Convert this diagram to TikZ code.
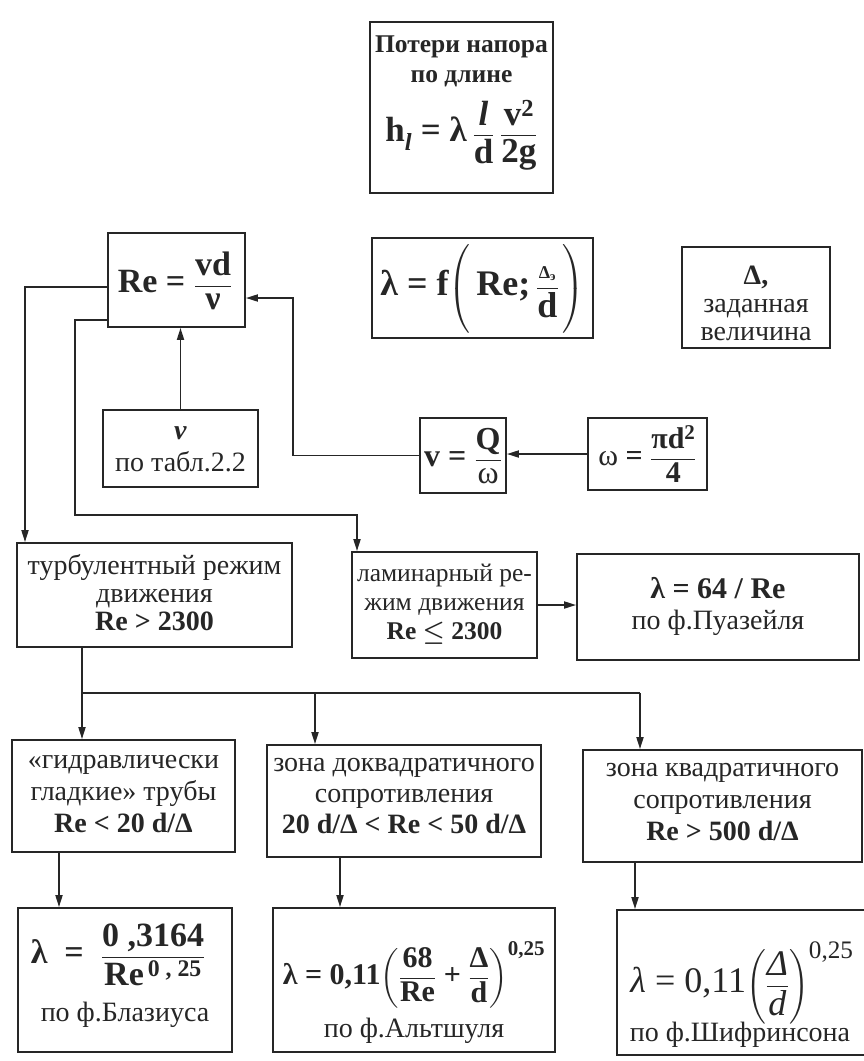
\documentclass[tikz,border=0pt]{standalone}
\usepackage{amsmath}
\usepackage{fontspec}
\setmainfont{Liberation Serif}
\usetikzlibrary{arrows.meta,calc}
\definecolor{ink}{HTML}{262626}
\newcommand\myfs[2]{\fontsize{#1}{#2}\selectfont}
\newcommand\myfr[2]{\ensuremath{\dfrac{\text{#1}}{\text{#2}}}}
\tikzset{
  box/.style={draw=ink, line width=1.8pt, inner sep=0pt},
  ln/.style={draw=ink, line width=1.8pt, line join=miter},
  arr/.style={ln, -{Triangle[length=12pt,width=7pt]}},
  txt/.style={inner sep=0pt, align=center, text=ink, font=\myfs{28}{31}},
}
\begin{document}
\begin{tikzpicture}[x=1pt,y=-1pt]
\useasboundingbox (0,0) rectangle (864,1061);
\fill[white] (0,0) rectangle (864,1061);

% boxes
\node[box, minimum width=183pt, minimum height=171pt] (top) at (461.5,107.5) {};
\node[box, minimum width=137pt, minimum height=94pt] (Re) at (176.5,280) {};
\node[box, minimum width=221pt, minimum height=100pt] (lf) at (482.5,288) {};
\node[box, minimum width=148pt, minimum height=101pt] (dl) at (756,297.5) {};
\node[box, minimum width=155pt, minimum height=77pt] (nu) at (180.5,448.5) {};
\node[box, minimum width=86pt, minimum height=75pt] (v) at (463,455.5) {};
\node[box, minimum width=119pt, minimum height=72pt] (om) at (647.5,454) {};
\node[box, minimum width=275pt, minimum height=104pt] (turb) at (154.5,595) {};
\node[box, minimum width=185pt, minimum height=106pt] (lam) at (444.5,605) {};
\node[box, minimum width=282pt, minimum height=106pt] (puaz) at (718,607) {};
\node[box, minimum width=223pt, minimum height=112pt] (za) at (123.5,796) {};
\node[box, minimum width=274pt, minimum height=112pt] (zb) at (404,801) {};
\node[box, minimum width=279pt, minimum height=112pt] (zc) at (722.5,806) {};
\node[box, minimum width=214pt, minimum height=144pt] (fa) at (125,980) {};
\node[box, minimum width=282pt, minimum height=144pt] (fb) at (414,980) {};
\node[box, minimum width=253pt, minimum height=145pt] (fc) at (743.5,982.5) {};

% texts
\node[txt, font=\bfseries\myfs{25.5}{30}] (t1) at (461.5,61) {Потери напора\\по длине};
\node[txt, font=\bfseries\myfs{35}{35}] (t2) at (461.5,135) {h$_{\text{\itshape l}}$ = λ\,\myfr{\itshape l}{d}\,\myfr{v$^{\text{2}}$}{2g}};
\node[txt, font=\bfseries\myfs{34}{34}] (t3) at (175,281) {Re = \myfr{vd}{ν}};
\node[txt, font=\bfseries\myfs{36}{36}] (t4) at (482.5,290) {λ = f$\left(\rule[-41pt]{0pt}{84pt}\text{\,Re;\,}\dfrac{\text{\myfs{18}{18}Δ$_{\text{э}}$}}{\text{d}}\,\right)$};
\node[txt, font=\myfs{28}{28}] (t5) at (756,303) {\textbf{Δ,}\\заданная\\величина};
\node[txt, font=\myfs{28}{32}] (t6) at (180.5,449) {\textbf{\itshape ν}\\по табл.2.2};
\node[txt, font=\bfseries\myfs{32}{32}] (t7) at (463,456) {v = \myfr{Q}{\mdseries ω}};
\node[txt, font=\bfseries\myfs{30}{30}] (t8) at (647.5,454) {{\mdseries ω} = \myfr{πd$^{\text{2}}$}{4}};
\node[txt, font=\myfs{28}{28}] (t9) at (154.5,593) {турбулентный режим\\движения\\\textbf{Re > 2300}};
\node[txt, font=\myfs{25.5}{29}] (t10) at (444.5,604) {ламинарный ре-\\жим движения\\\textbf{Re {\boldmath$\le$} 2300}};
\node[txt, font=\myfs{28}{31}] (t11) at (718,606) {\textbf{\myfs{30}{31}λ = 64 / Re}\\по ф.Пуазейля};
\node[txt, font=\myfs{28}{32}] (t12) at (123.5,794) {«гидравлически\\гладкие» трубы\\\textbf{Re < 20 d/Δ}};
\node[txt, font=\myfs{28}{31}] (t13) at (404,796) {зона доквадратичного\\сопротивления\\\textbf{20 d/Δ < Re < 50 d/Δ}};
\node[txt, font=\myfs{28}{32}] (t14) at (722.5,802) {зона квадратичного\\сопротивления\\\textbf{Re > 500 d/Δ}};
\node[txt, font=\bfseries\myfs{34}{34}] (t15) at (118,955) {λ \ = \ \myfr{0 ,3164}{Re$^{\text{\,0 , 25}}$}};
\node[txt] (t16) at (125,1015) {по ф.Блазиуса};
\node[txt, font=\bfseries\myfs{30}{30}] (t17) at (414,975) {λ = 0,11$\left(\myfr{68}{Re}\text{ + }\myfr{Δ}{d}\right)^{\text{0,25}}$};
\node[txt] (t18) at (414,1031) {по ф.Альтшуля};
\node[txt, font=\myfs{36}{36}] (t19) at (742,983) {\textit{λ} = 0,11$\left(\myfr{\itshape Δ}{\itshape d}\right)^{\text{0,25}}$};
\node[txt] (t20) at (740,1035) {по ф.Шифринсона};

% connectors
\coordinate (k1) at (25,287);
\draw[arr] (Re.west |- k1) -- (k1) -- (k1 |- turb.north);
\coordinate (k2) at (75,320);
\coordinate (k3) at (357,515);
\draw[arr] (Re.west |- k2) -- (k2) -- (k2 |- k3) -- (k3) -- (k3 |- lam.north);
\draw[arr] (nu.north) -- (nu.north |- Re.south);
\coordinate (k4) at (293,298);
\draw[arr] (v.west) -- (v.west -| k4) -- (k4) -- (k4 -| Re.east);
\draw[arr] (om.west) -- (om.west -| v.east);
\draw[arr] (lam.east) -- (lam.east -| puaz.west);
\coordinate (k5) at (82,693);
\coordinate (k6) at (640,693);
\coordinate (k7) at (315,693);
\draw[ln] (turb.south -| k5) -- (k5) -- (k6);
\draw[arr] (k5) -- (k5 |- za.north);
\draw[arr] (k7) -- (k7 |- zb.north);
\draw[arr] (k6) -- (k6 |- zc.north);
\coordinate (k8) at (59,880);
\coordinate (k9) at (340,880);
\coordinate (k10) at (635,880);
\draw[arr] (za.south -| k8) -- (k8 |- fa.north);
\draw[arr] (zb.south -| k9) -- (k9 |- fb.north);
\draw[arr] (zc.south -| k10) -- (k10 |- fc.north);
\end{tikzpicture}
\end{document}
